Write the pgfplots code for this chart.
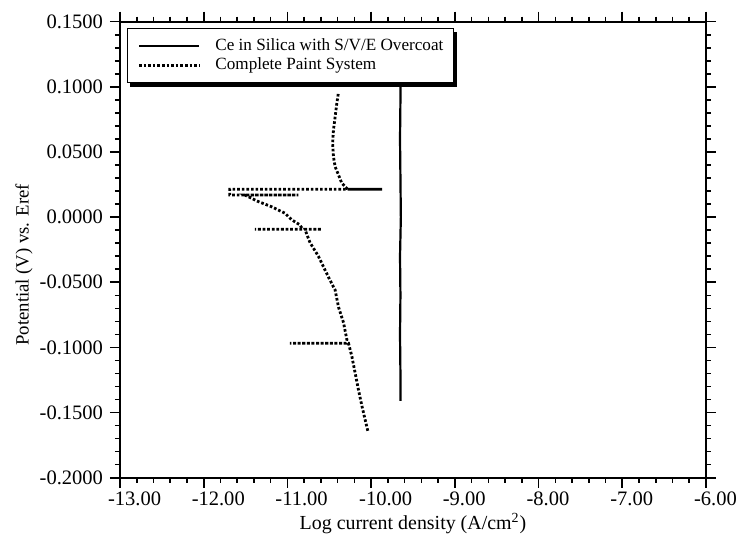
\documentclass[border=0pt]{standalone}
\usepackage{fontspec}
\setmainfont{Liberation Serif}
\usepackage{pgfplots}
\pgfplotsset{compat=1.18}
\usetikzlibrary{backgrounds}

\begin{document}
\begin{tikzpicture}
\useasboundingbox (-60bp,-35bp) rectangle (309.5bp,238.85bp);
\begin{axis}[
  at={(0,0)}, anchor=south west,
  scale only axis, width=293bp, height=228bp,
  xmin=-13, xmax=-6, ymin=-0.2, ymax=0.15,
  xtick={-13,-12,-11,-10,-9,-8,-7,-6},
  xticklabels={-13.00,-12.00,-11.00,-10.00,-9.00,-8.00,-7.00,-6.00},
  ytick={-0.2,-0.15,-0.1,-0.05,0,0.05,0.1,0.15},
  yticklabels={-0.2000,-0.1500,-0.1000,-0.0500,0.0000,0.0500,0.1000,0.1500},
  minor x tick num=4, minor y tick num=4,
  tick align=outside,
  major tick length=5bp, minor tick length=2.5bp,
  axis line style={line width=0.9bp},
  every tick/.style={line width=0.8bp, black},
  tick label style={font=\fontsize{10.3}{12}\selectfont},
  xticklabel style={anchor=north west, xshift=-9.5bp, yshift=1.2bp},
  every axis x label/.style={at={(rel axis cs:0.5,-0.1)}, anchor=center,
    font=\fontsize{10}{12}\selectfont},
  every axis y label/.style={at={(rel axis cs:-0.1638,0.467)}, rotate=90, anchor=center,
    font=\fontsize{9.4}{12}\selectfont},
  xlabel={Log current density (A/cm\textsuperscript{2})},
  ylabel={Potential (V) vs. Eref},
  legend cell align=left,
  legend image code/.code={\draw[#1] (0bp,0bp) -- (30bp,0bp);},
  legend style={name=leg, at={(0.012,0.986)}, anchor=north west,
    draw=black, line width=0.6bp, fill=white,
    inner xsep=5bp, inner ysep=4.75bp, row sep=1.5bp, column sep=7.5bp,
    font=\fontsize{8.6}{9.5}\selectfont,
    nodes={inner sep=0pt, text height=6.2bp, text depth=1.8bp}},
]
% Ce in silica coating with S/V/E overcoat
\addplot[black, line width=1.1bp] coordinates {
  (-9.65,-0.141) (-9.65,-0.12) (-9.655,-0.09) (-9.65,-0.06) (-9.655,-0.03)
  (-9.645,0.0) (-9.65,0.03) (-9.655,0.06) (-9.65,0.09) (-9.65,0.13)
};
\addlegendentry{Ce in Silica with S/V/E Overcoat}
% complete paint system
\addplot[black, line width=1.4bp, dash pattern=on 1.3bp off 1.0bp] coordinates {
  (-10.04,-0.164) (-10.07,-0.156) (-10.11,-0.145) (-10.15,-0.133)
  (-10.19,-0.120) (-10.23,-0.107) (-10.27,-0.0968)
  (-10.97,-0.0968) (-10.30,-0.0968) (-10.29,-0.094)
  (-10.33,-0.081) (-10.39,-0.069) (-10.43,-0.056) (-10.51,-0.046)
  (-10.63,-0.030) (-10.73,-0.0196) (-10.77,-0.013) (-10.79,-0.0093)
  (-10.59,-0.0093) (-11.39,-0.0093) (-10.82,-0.0093)
  (-10.85,-0.006) (-10.95,-0.002) (-11.03,0.003) (-11.19,0.008)
  (-11.35,0.012) (-11.51,0.017)
  (-10.87,0.017) (-11.69,0.017) (-11.69,0.0214)
  (-9.87,0.0214) (-10.28,0.0214) (-10.31,0.0234)
  (-10.35,0.026) (-10.39,0.0324) (-10.43,0.0387) (-10.45,0.0464)
  (-10.46,0.0567) (-10.45,0.067) (-10.43,0.077) (-10.41,0.0874)
  (-10.39,0.0958)
};
\addlegendentry{Complete Paint System}
\end{axis}
% shadow behind the legend box
\begin{pgfonlayer}{background}
  \fill[black] ([xshift=1.4bp,yshift=-1.8bp]leg.south west)
    rectangle ([xshift=1.4bp,yshift=-1.8bp]leg.north east);
\end{pgfonlayer}
\end{tikzpicture}
\end{document}
